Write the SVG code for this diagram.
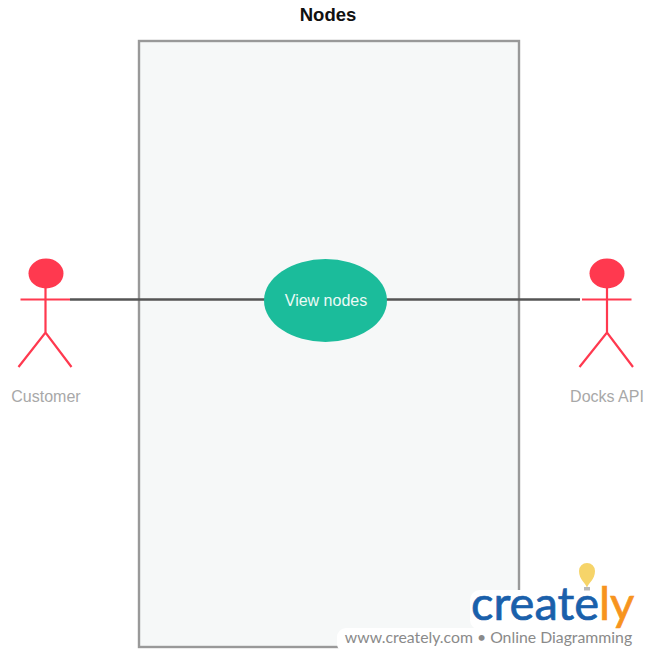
<svg xmlns="http://www.w3.org/2000/svg" width="645" height="653" viewBox="0 0 645 653">
<style>
text{font-family:"Liberation Sans",Arial,sans-serif;text-anchor:middle}
.actor{fill:none;stroke:#ff394f;stroke-width:2.2}
.head{fill:#ff394f}
.lab{font-size:16px;fill:#a8a8a8}
.conn{stroke:#555;stroke-width:2.4;fill:none}
</style>
<rect width="645" height="653" fill="#fff"/>
<g id="boundary">
<rect x="139" y="41" width="380" height="606" fill="#f6f8f8" stroke="#999" stroke-width="2.4"/>
<text x="328" y="21" font-size="18.500px" font-weight="700" fill="#111">Nodes</text>
</g>
<g id="connectors">
<line class="conn" x1="70" y1="299.5" x2="265" y2="299.5"/>
<line class="conn" x1="384" y1="299.5" x2="580" y2="299.5"/>
</g>
<g id="customer">
<ellipse class="head" cx="46" cy="273.500" rx="17.500" ry="15"/>
<path class="actor" d="M20.500 299.500H70M45.500 288V332.500M18.500 367L45.500 332.500L71.500 367"/>
<text class="lab" x="46" y="402">Customer</text>
</g>
<g id="view-nodes">
<ellipse cx="325.500" cy="300.500" rx="61.500" ry="41.500" fill="#1bbc9b"/>
<text x="326" y="306" font-size="16px" fill="#ecfaf6">View nodes</text>
</g>
<g id="docks-api">
<ellipse class="head" cx="607" cy="273.500" rx="17.500" ry="15"/>
<path class="actor" d="M582 299.500H631.500M607 288V332.500M579.500 367L607 332.500L633 367"/>
<text class="lab" x="607" y="402">Docks API</text>
</g>
<g id="watermark">
<rect x="470" y="590" width="170" height="40" rx="10" fill="#fff"/>
<rect x="337" y="628" width="300" height="25" rx="9" fill="#fff"/>
<path d="M587 588c-1-5-8-8-8-17a8 8 0 0 1 16 0c0 9-7 12-8 17z" fill="#f6d469"/>
<rect x="584" y="587" width="6" height="3.500" fill="#b9b9b9"/>
<text x="471" y="620" font-size="47px" style="font-family:Lato,sans-serif;text-anchor:start" fill="#1a60ab" stroke="#1a60ab" stroke-width="0.7">create<tspan fill="#f7941e" stroke="#f7941e">ly</tspan></text>
<text x="488.500" y="643" font-size="15.800px" style="font-family:Lato,sans-serif" fill="#8a8a8a">www.creately.com • Online Diagramming</text>
</g>
</svg>
